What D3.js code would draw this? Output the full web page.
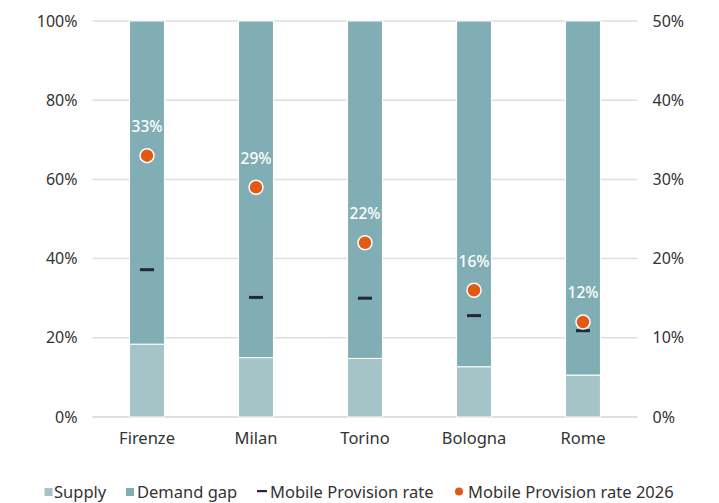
<!DOCTYPE html>
<html>
<head>
<meta charset="utf-8">
<script src="https://cdn.jsdelivr.net/npm/d3@7/dist/d3.min.js"></script>
<style>
  html, body { margin: 0; padding: 0; background: #fff; }
  svg text { font-family: "Noto Sans", "Lato", sans-serif; }
</style>
</head>
<body>
<svg id="chart" width="719" height="503"></svg>
<script>
// Cities shown along the x axis
const cities = ["Firenze", "Milan", "Torino", "Bologna", "Rome"];
// Share of demand covered by supply (left axis, %)
const supply = [18.4, 15.0, 14.8, 12.7, 10.6];
// Remaining demand gap (left axis, %)
const demandGap = [81.6, 85.0, 85.2, 87.3, 89.4];
// Current mobile provision rate (right axis, %)
const provisionRate = [18.6, 15.1, 15.0, 12.8, 10.9];
// Projected mobile provision rate 2026 (right axis, %)
const provisionRate2026 = [33, 29, 22, 16, 12];

const leftTicks = [0, 20, 40, 60, 80, 100];
const rightTicks = [0, 10, 20, 30, 40, 50];

const colors = {
  supply: "#a4c4c8",
  gap: "#81adb4",
  rate: "#25253d",
  rate2026: "#e05a14",
  grid: "#dedede",
  text: "#333333"
};

const svg = d3.select("#chart");
const margin = { left: 92.5, right: 81.5, top: 21, bottom: 86 };
const W = 719, H = 503;

const x = d3.scaleBand().domain(cities)
  .range([margin.left, W - margin.right]).paddingInner(0.68).paddingOuter(0.34);
const yL = d3.scaleLinear().domain([0, 100]).range([H - margin.bottom, margin.top]);
const yR = d3.scaleLinear().domain([0, 50]).range([H - margin.bottom, margin.top]);

// Gridlines
svg.append("g").selectAll("line").data(leftTicks).join("line")
  .attr("x1", margin.left).attr("x2", W - margin.right)
  .attr("y1", d => yL(d)).attr("y2", d => yL(d))
  .attr("stroke", colors.grid).attr("stroke-width", d => d === 0 ? 2 : 1.5);

// Left axis
const leftAxis = svg.append("g")
  .attr("transform", `translate(${margin.left - 15},0)`)
  .call(d3.axisLeft(yL).tickValues(leftTicks).tickFormat(d => d + "%").tickSize(0).tickPadding(0));
leftAxis.select(".domain").remove();
leftAxis.selectAll("text").attr("font-size", 16).attr("fill", colors.text);

// Right axis
const rightAxis = svg.append("g")
  .attr("transform", `translate(${W - margin.right + 15},0)`)
  .call(d3.axisRight(yR).tickValues(rightTicks).tickFormat(d => d + "%").tickSize(0).tickPadding(0));
rightAxis.select(".domain").remove();
rightAxis.selectAll("text").attr("font-size", 16).attr("fill", colors.text);

// Stacked bars
const stackData = cities.map((c, i) => ({ city: c, supply: supply[i], gap: demandGap[i] }));
const series = d3.stack().keys(["supply", "gap"])(stackData);
svg.append("g").selectAll("g").data(series).join("g")
  .attr("fill", d => d.key === "supply" ? colors.supply : colors.gap)
  .selectAll("rect").data(d => d).join("rect")
  .attr("x", d => x(d.data.city))
  .attr("width", x.bandwidth())
  .attr("y", d => yL(d[1]))
  .attr("height", d => yL(d[0]) - yL(d[1]))
  .attr("stroke", "#fff").attr("stroke-width", 1);

// Category labels
svg.append("g").selectAll("text").data(cities).join("text")
  .attr("x", d => x(d) + x.bandwidth() / 2)
  .attr("y", H - margin.bottom + 27)
  .attr("text-anchor", "middle")
  .attr("font-size", 16.5).attr("fill", colors.text)
  .text(d => d);

// Current provision rate markers
svg.append("g").selectAll("rect").data(provisionRate).join("rect")
  .attr("x", (d, i) => x(cities[i]) + x.bandwidth() / 2 - 7)
  .attr("y", d => yR(d) - 1.5)
  .attr("width", 14).attr("height", 3)
  .attr("fill", colors.rate);

// 2026 provision rate dots
svg.append("g").selectAll("circle").data(provisionRate2026).join("circle")
  .attr("cx", (d, i) => x(cities[i]) + x.bandwidth() / 2)
  .attr("cy", d => yR(d))
  .attr("r", 7)
  .attr("fill", colors.rate2026)
  .attr("stroke", "#fff").attr("stroke-width", 1.5);

// Value labels for 2026 rates
svg.append("g").selectAll("text").data(provisionRate2026).join("text")
  .attr("x", (d, i) => x(cities[i]) + x.bandwidth() / 2)
  .attr("y", d => yR(d) - 23.5)
  .attr("text-anchor", "middle")
  .attr("font-size", 15.5).attr("font-weight", 500)
  .attr("fill", "#fff")
  .text(d => d + "%");

// Legend
const legend = svg.append("g").attr("transform", `translate(0, ${H - 5})`);
const items = [
  { label: "Supply", type: "square", color: colors.supply, mx: 44.5, tx: 54 },
  { label: "Demand gap", type: "square", color: colors.gap, mx: 126, tx: 137 },
  { label: "Mobile Provision rate", type: "dash", color: colors.rate, mx: 257, tx: 270 },
  { label: "Mobile Provision rate 2026", type: "dot", color: colors.rate2026, mx: 455, tx: 468 }
];
items.forEach(it => {
  const g = legend.append("g");
  if (it.type === "square") {
    g.append("rect").attr("x", it.mx).attr("y", -10).attr("width", 8).attr("height", 8).attr("fill", it.color);
  } else if (it.type === "dash") {
    g.append("rect").attr("x", it.mx).attr("y", -8).attr("width", 10).attr("height", 2.2).attr("fill", it.color);
  } else {
    g.append("circle").attr("cx", it.mx + 4).attr("cy", -6.5).attr("r", 4).attr("fill", it.color);
  }
  g.append("text").attr("x", it.tx).attr("y", 0).attr("font-size", 16.5).attr("fill", colors.text).text(it.label);
});
</script>
</body>
</html>
